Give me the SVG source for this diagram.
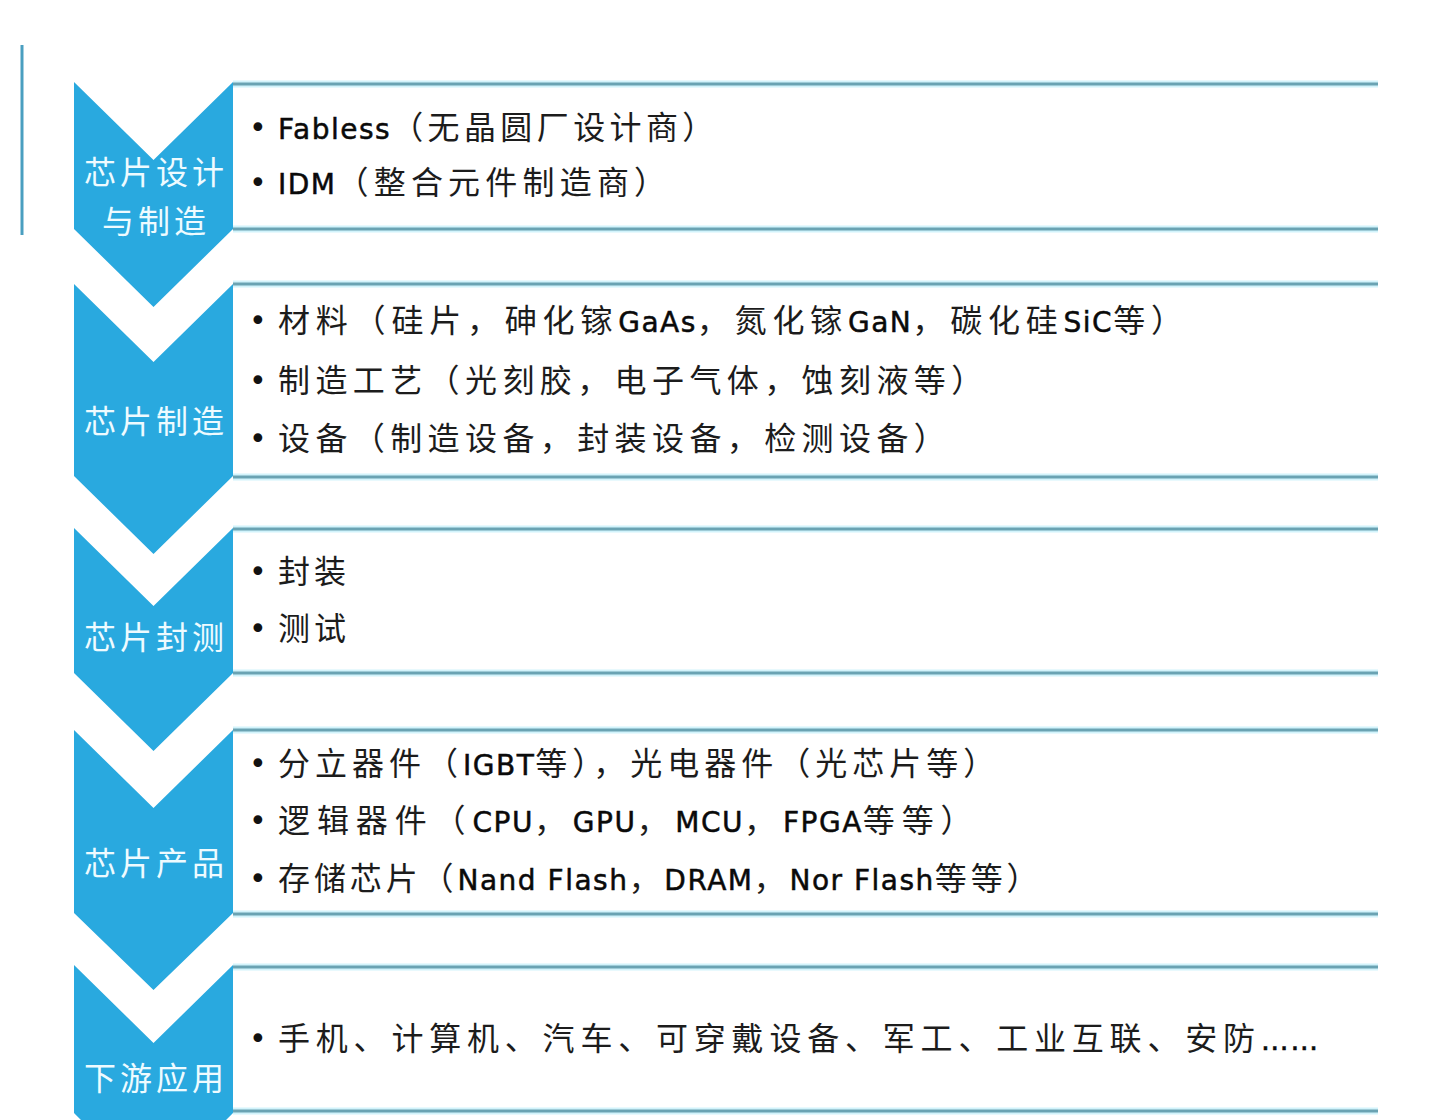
<svg xmlns="http://www.w3.org/2000/svg" width="1454" height="1120" viewBox="0 0 1454 1120">
<defs>
<style>
.chev{fill:#29a9df;}
.glow{stroke:#d2f3fb;stroke-width:7;fill:none;}
.edge{stroke:#6aa3b3;stroke-width:3;fill:none;}
.lbl{font-family:"Noto Sans CJK SC",sans-serif;font-size:32px;fill:#eefbff;text-anchor:middle;letter-spacing:4px;}
.t{font-family:"Noto Sans CJK SC",sans-serif;font-size:32px;fill:#1c1c1c;}
.lat{font-family:"DejaVu Sans","Noto Sans CJK SC",sans-serif;font-size:28px;letter-spacing:1.5px;fill:#0a0a0a;stroke:#0a0a0a;stroke-width:0.5px;}
.b{font-family:"DejaVu Sans",sans-serif;font-size:30px;fill:#111;}
</style>
</defs>
<rect width="1454" height="1120" fill="#ffffff"/>
<line x1="22" y1="45" x2="22" y2="235" stroke="#4a9fc0" stroke-width="3"/>
<g id="connectors"></g>

<g id="node1">
<polygon class="chev" points="74,82 153.5,160 233,82 233,229 153.5,307 74,229"/>
<line class="glow" x1="233" y1="84" x2="1378" y2="84"/><line class="edge" x1="233" y1="84" x2="1378" y2="84"/>
<line class="glow" x1="233" y1="229" x2="1378" y2="229"/><line class="edge" x1="233" y1="229" x2="1378" y2="229"/>
<text class="lbl" x="156" y="184">芯片设计</text>
<text class="lbl" x="156" y="233">与制造</text>
<text class="b" x="249" y="138">•</text>
<text class="t" x="278" y="139" letter-spacing="4.4"><tspan class="lat">Fabless</tspan>（无晶圆厂设计商）</text>
<text class="b" x="249" y="193">•</text>
<text class="t" x="278" y="194" letter-spacing="5.2"><tspan class="lat">IDM</tspan>（整合元件制造商）</text>
</g>

<g id="node2">
<polygon class="chev" points="74,284 153.5,362 233,284 233,476 153.5,554 74,476"/>
<line class="glow" x1="233" y1="284" x2="1378" y2="284"/><line class="edge" x1="233" y1="284" x2="1378" y2="284"/>
<line class="glow" x1="233" y1="477" x2="1378" y2="477"/><line class="edge" x1="233" y1="477" x2="1378" y2="477"/>
<text class="lbl" x="156" y="433">芯片制造</text>
<text class="b" x="249" y="331">•</text>
<text class="t" x="278" y="332" letter-spacing="5.8">材料（硅片，砷化镓<tspan class="lat">GaAs</tspan>，氮化镓<tspan class="lat">GaN</tspan>，碳化硅<tspan class="lat">SiC</tspan>等）</text>
<text class="b" x="249" y="391">•</text>
<text class="t" x="278" y="392" letter-spacing="5.4">制造工艺（光刻胶，电子气体，蚀刻液等）</text>
<text class="b" x="249" y="449">•</text>
<text class="t" x="278" y="450" letter-spacing="5.4">设备（制造设备，封装设备，检测设备）</text>
</g>

<g id="node3">
<polygon class="chev" points="74,528 153.5,606 233,528 233,673 153.5,751 74,673"/>
<line class="glow" x1="233" y1="529" x2="1378" y2="529"/><line class="edge" x1="233" y1="529" x2="1378" y2="529"/>
<line class="glow" x1="233" y1="673" x2="1378" y2="673"/><line class="edge" x1="233" y1="673" x2="1378" y2="673"/>
<text class="lbl" x="156" y="649">芯片封测</text>
<text class="b" x="249" y="582">•</text>
<text class="t" x="278" y="583" letter-spacing="4">封装</text>
<text class="b" x="249" y="639">•</text>
<text class="t" x="278" y="640" letter-spacing="4">测试</text>
</g>

<g id="node4">
<polygon class="chev" points="74,730 153.5,808 233,730 233,913 153.5,990 74,913"/>
<line class="glow" x1="233" y1="730" x2="1378" y2="730"/><line class="edge" x1="233" y1="730" x2="1378" y2="730"/>
<line class="glow" x1="233" y1="914" x2="1378" y2="914"/><line class="edge" x1="233" y1="914" x2="1378" y2="914"/>
<text class="lbl" x="156" y="875">芯片产品</text>
<text class="b" x="249" y="774">•</text>
<text class="t" x="278" y="775" letter-spacing="5">分立器件（<tspan class="lat">IGBT</tspan>等），光电器件（光芯片等）</text>
<text class="b" x="249" y="831">•</text>
<text class="t" x="278" y="832" letter-spacing="6.9">逻辑器件（<tspan class="lat">CPU</tspan>，<tspan class="lat">GPU</tspan>，<tspan class="lat">MCU</tspan>，<tspan class="lat">FPGA</tspan>等等）</text>
<text class="b" x="249" y="889">•</text>
<text class="t" x="278" y="890" letter-spacing="3.9">存储芯片（<tspan class="lat">Nand Flash</tspan>，<tspan class="lat">DRAM</tspan>，<tspan class="lat">Nor Flash</tspan>等等）</text>
</g>

<g id="node5">
<polygon class="chev" points="74,965 153.5,1043 233,965 233,1113 226,1120 81,1120 74,1113"/>
<line class="glow" x1="233" y1="967" x2="1378" y2="967"/><line class="edge" x1="233" y1="967" x2="1378" y2="967"/>
<line class="glow" x1="233" y1="1111" x2="1378" y2="1111"/><line class="edge" x1="233" y1="1111" x2="1378" y2="1111"/>
<text class="lbl" x="156" y="1090">下游应用</text>
<text class="b" x="249" y="1049">•</text>
<text class="t" x="278" y="1050" letter-spacing="5.8">手机、计算机、汽车、可穿戴设备、军工、工业互联、安防<tspan class="lat" letter-spacing="0">……</tspan></text>
</g>
</svg>
